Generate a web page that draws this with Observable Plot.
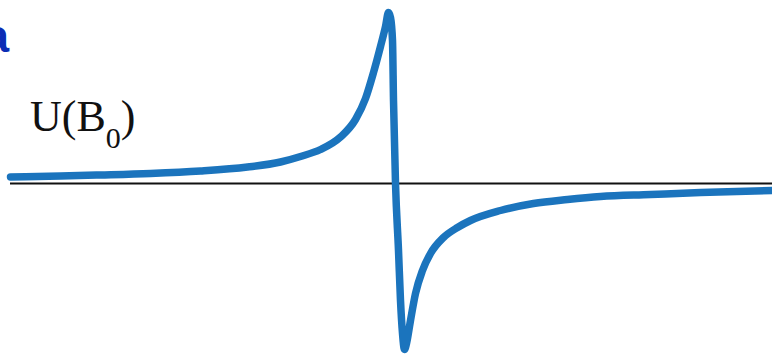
<!DOCTYPE html>
<html>
<head>
<meta charset="utf-8">
<script src="https://cdn.jsdelivr.net/npm/d3@7"></script>
<script src="https://cdn.jsdelivr.net/npm/@observablehq/plot@0.6"></script>
<style>
  html, body { margin: 0; padding: 0; background: #fff; }
  #chart { width: 772px; height: 360px; overflow: hidden; }
</style>
</head>
<body>
<div id="chart"></div>
<script>
// Field positions (B, arbitrary units) and signal values U(B)
const field = [10, 60, 100, 150, 200, 247, 280, 300, 320, 340, 355, 365, 373, 380, 385, 388, 390, 392, 393, 395, 398, 400, 402, 404, 406, 410, 415, 422, 430, 443, 457, 470, 500, 533, 567, 600, 650, 700, 772];
const signal = [6.5, 7.5, 8.5, 10, 12.5, 16.5, 21.5, 27, 34, 46.5, 64, 85, 111, 137, 157, 171, 166, 143, 83, 0, -67, -117, -150, -166, -160, -137, -110, -87, -70, -54, -44, -37, -27, -20, -16, -13, -11, -9, -7];
const axisStart = 10, axisEnd = 772;
const labelMain = "U(B", labelSub = "0", labelClose = ")";
const cornerLabel = "a";

const data = field.map((b, i) => ({b, u: signal[i]}));

const plot = Plot.plot({
  width: 772,
  height: 360,
  margin: 0,
  x: {domain: [0, 772], axis: null},
  y: {domain: [-177, 183], axis: null},
  marks: [
    Plot.ruleY([0], {x1: axisStart, x2: axisEnd, stroke: "#111", strokeWidth: 2}),
    Plot.line(data, {x: "b", y: "u", stroke: "#1b74bd", strokeWidth: 7.5, curve: "monotone-x", strokeLinecap: "round", strokeLinejoin: "round"})
  ]
});

const svg = d3.select(plot);
const t = svg.append("text")
  .attr("x", 30).attr("y", 131)
  .attr("text-anchor", "start")
  .attr("font-family", "Liberation Serif, Times New Roman, serif")
  .attr("font-size", 44)
  .attr("fill", "#111");
t.append("tspan").text(labelMain);
t.append("tspan").attr("dy", 17).attr("font-size", 30).text(labelSub);
t.append("tspan").attr("dy", -17).text(labelClose);

svg.append("text")
  .attr("x", 9).attr("y", 52)
  .attr("text-anchor", "end")
  .attr("font-family", "Liberation Sans, Arial, sans-serif")
  .attr("font-weight", "bold")
  .attr("font-size", 46)
  .attr("fill", "#0b2db5")
  .text(cornerLabel);

document.getElementById("chart").appendChild(plot);
</script>
</body>
</html>
